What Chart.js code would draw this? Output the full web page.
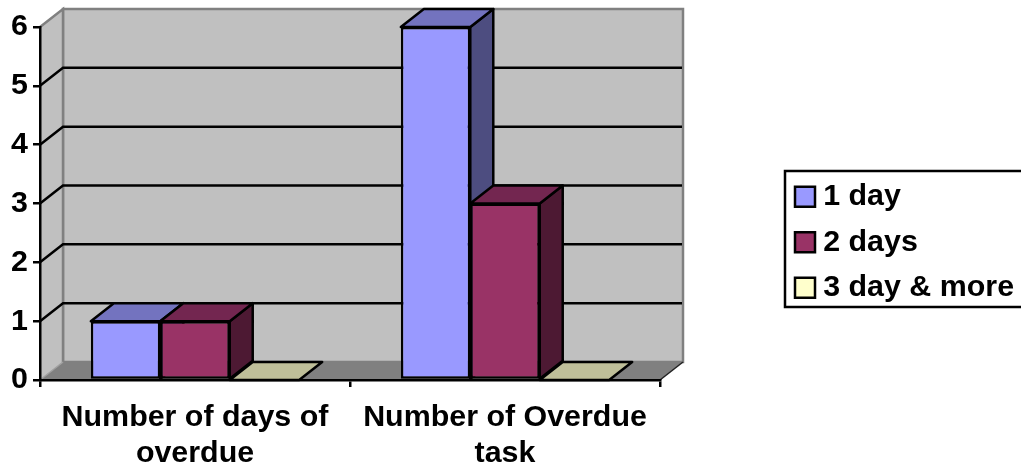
<!DOCTYPE html>
<html>
<head>
<meta charset="utf-8">
<title>Overdue tasks</title>
<script src="https://cdn.jsdelivr.net/npm/chart.js@4/dist/chart.umd.min.js"></script>
<style>
  html, body { margin: 0; padding: 0; background: #fff; overflow: hidden; }
  #wrap { position: relative; width: 1021px; height: 467px; }
</style>
</head>
<body>
<div id="wrap"><canvas id="overdueChart"></canvas></div>
<script>
const categories = [['Number of days of', 'overdue'], ['Number of Overdue', 'task']];
const seriesNames = ['1 day', '2 days', '3 day & more'];
const oneDay = [1, 6];
const twoDays = [1, 3];
const threeDaysPlus = [0, 0];
const frontColors = ['#9999FF', '#993366', '#FFFFCC'];
const topColors = ['#7373BF', '#732650', '#BFBF99'];
const sideColors = ['#4D4D80', '#4D1933', '#808066'];

const FONT = { family: '"Liberation Sans", Arial, sans-serif', weight: 'bold', size: 30.4 };
const DEPTH_X = 23;
const DEPTH_Y = -18;
const LINE = 2.5;

function poly(ctx, pts, fill, stroke, width) {
    ctx.beginPath();
    pts.forEach((p, i) => (i ? ctx.lineTo(p[0], p[1]) : ctx.moveTo(p[0], p[1])));
    ctx.closePath();
    if (fill) {
        ctx.fillStyle = fill;
        ctx.fill();
    }
    if (stroke) {
        ctx.strokeStyle = stroke;
        ctx.lineWidth = width;
        ctx.stroke();
    }
}

function line(ctx, pts, color, width) {
    ctx.beginPath();
    pts.forEach((p, i) => (i ? ctx.lineTo(p[0], p[1]) : ctx.moveTo(p[0], p[1])));
    ctx.strokeStyle = color;
    ctx.lineWidth = width;
    ctx.stroke();
}

// Back wall, side wall, floor and the gridlines running across them
const wallsPlugin = {
    id: 'walls',
    beforeDraw(chart) {
        const ctx = chart.ctx;
        const { left, right, top, bottom } = chart.chartArea;
        const dx = DEPTH_X, dy = DEPTH_Y;
        ctx.save();
        poly(ctx, [[left + dx, top + dy], [right + dx, top + dy], [right + dx, bottom + dy], [left + dx, bottom + dy]], '#C0C0C0', '#808080', LINE);
        poly(ctx, [[left, top], [left + dx, top + dy], [left + dx, bottom + dy], [left, bottom]], '#C0C0C0', null);
        line(ctx, [[left, top], [left + dx, top + dy], [left + dx, bottom + dy]], '#808080', LINE);
        poly(ctx, [[left, bottom], [left + dx, bottom + dy], [right + dx, bottom + dy], [right, bottom]], '#808080', null);
        line(ctx, [[right, bottom], [right + dx, bottom + dy]], '#222', 1.5);
        line(ctx, [[left, bottom], [left + dx, bottom + dy]], '#A0A0A0', 1.5);
        const y = chart.scales.y;
        y.ticks.forEach((t) => {
            if (t.value === y.min || t.value === y.max) return;
            const py = y.getPixelForValue(t.value);
            line(ctx, [[left, py], [left + dx, py + dy], [right + dx - 1, py + dy]], '#000', LINE);
        });
        ctx.restore();
    },
    // Top and side faces of each bar, left to right so nearer bars overlap
    beforeDatasetsDraw(chart) {
        const ctx = chart.ctx;
        const dx = DEPTH_X, dy = DEPTH_Y;
        ctx.save();
        ctx.lineJoin = 'round';
        categories.forEach((_, c) => {
            chart.data.datasets.forEach((ds, d) => {
                const bar = chart.getDatasetMeta(d).data[c];
                const l = bar.x - bar.width / 2;
                const r = bar.x + bar.width / 2;
                const t = bar.y;
                const b = bar.base;
                if (b > t) {
                    poly(ctx, [[r, t], [r + dx, t + dy], [r + dx, b + dy], [r, b]], sideColors[d], '#000', LINE);
                }
                poly(ctx, [[l, t], [l + dx, t + dy], [r + dx, t + dy], [r, t]], topColors[d], '#000', LINE);
            });
        });
        ctx.restore();
    },
    afterDraw(chart) {
        const ctx = chart.ctx;
        ctx.save();
        ctx.strokeStyle = '#000';
        ctx.lineWidth = LINE;
        ctx.strokeRect(785, 171, 260, 136);
        ctx.restore();
    },
    // The legend floats right of the plot instead of taking layout space
    afterLayout(chart) {
        const legend = chart.legend;
        legend.left = 786.9;
        legend.right = 1021;
        legend.top = 166.5;
        legend.bottom = 320;
    }
};

new Chart(document.getElementById('overdueChart'), {
    type: 'bar',
    data: {
        labels: categories,
        datasets: [oneDay, twoDays, threeDaysPlus].map((values, i) => ({
            label: seriesNames[i],
            data: values,
            backgroundColor: frontColors[i],
            borderColor: '#000',
            borderWidth: 2.5,
            borderSkipped: false,
            categoryPercentage: 0.672,
            barPercentage: 1
        }))
    },
    options: {
        responsive: true,
        maintainAspectRatio: false,
        animation: false,
        layout: { padding: { top: 27, right: 361, left: 0, bottom: 0 } },
        plugins: {
            tooltip: { enabled: false },
            legend: {
                position: 'chartArea',
                align: 'start',
                labels: {
                    font: FONT,
                    color: '#000',
                    usePointStyle: true,
                    pointStyle: 'rect',
                    boxWidth: 6,
                    boxHeight: 20,
                    padding: 15.1
                }
            }
        },
        scales: {
            x: {
                afterFit(scale) { scale.height = 87; },
                border: { color: '#000', width: LINE },
                grid: { drawOnChartArea: false, color: '#000', lineWidth: LINE, tickLength: 7 },
                ticks: { font: { ...FONT, lineHeight: 1.18 }, color: '#000', maxRotation: 0, autoSkip: false, padding: 13 }
            },
            y: {
                min: 0,
                max: 6,
                afterFit(scale) { scale.width = 40; },
                border: { color: '#000', width: LINE },
                grid: { drawOnChartArea: false, color: '#000', lineWidth: LINE, tickLength: 7 },
                ticks: { font: FONT, color: '#000', stepSize: 1, padding: 5 }
            }
        }
    },
    plugins: [wallsPlugin]
});
</script>
</body>
</html>
